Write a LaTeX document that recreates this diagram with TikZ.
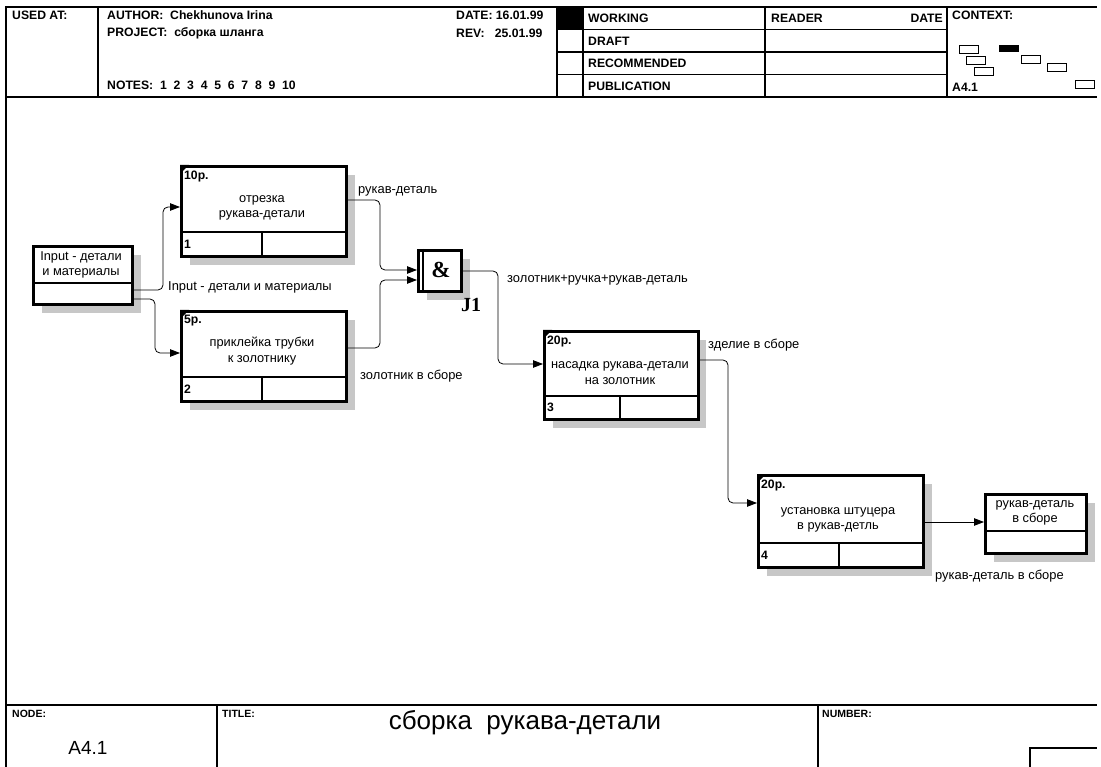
\documentclass[tikz,border=0pt]{standalone}
\usepackage{fontspec}
\setmainfont{Liberation Sans}
\newfontfamily\serifb{Liberation Serif}
\usetikzlibrary{arrows.meta,calc}
\tikzset{
  frame/.style={line width=1.1pt},
  abox/.style={draw, line width=2.6pt, rectangle, inner sep=0pt, anchor=north west},
  inner/.style={line width=2.2pt},
  shade/.style={fill=black!22},
  conn/.style={line width=0.8pt, rounded corners=5pt, -{Triangle[length=10pt,width=7.5pt]}},
  hdr/.style={font=\fontsize{12.2}{14}\selectfont\bfseries, anchor=west, inner sep=0pt},
  ftr/.style={font=\fontsize{10.5}{12}\selectfont\bfseries, anchor=west, inner sep=0pt},
  boxtxt/.style={font=\fontsize{12.8}{15.5}\selectfont, align=center, inner sep=0pt},
  lbl/.style={font=\fontsize{12.9}{15}\selectfont, anchor=west, inner sep=0pt},
  numtxt/.style={font=\fontsize{12.2}{14}\selectfont\bfseries, anchor=west, inner sep=0pt},
  ctx/.style={draw, line width=0.7pt, anchor=north west, inner sep=0pt, minimum width=19pt, minimum height=8pt}
}
\begin{document}
\begin{tikzpicture}[x=1pt,y=-1pt]
\useasboundingbox (0,0) rectangle (1101,767);
% ---------- frame and header ----------
\draw[frame] (6,767) -- (6,7) -- (1097,7);
\draw[frame] (6,97) -- (1097,97);
\draw[frame] (98,7) -- (98,97);
\draw[frame] (557,7) -- (557,97);
\draw[frame] (583,7) -- (583,97);
\draw[frame] (765,7) -- (765,97);
\draw[frame] (947,7) -- (947,97);
\draw[frame] (557,29.5) -- (947,29.5);
\draw[frame] (557,52) -- (947,52);
\draw[frame] (557,74.5) -- (947,74.5);
\fill (557,7) rectangle (583,29.5);
\node[hdr] (usedat) at (12,15) {USED AT:};
\node[hdr] (author) at (107,15) {AUTHOR:\ \ Chekhunova Irina};
\node[hdr] (project) at (107,33) {PROJECT:\ \ сборка шланга};
\node[hdr] (notes) at (107,85) {NOTES:\ \ 1\ \ 2\ \ 3\ \ 4\ \ 5\ \ 6\ \ 7\ \ 8\ \ 9\ \ 10};
\node[hdr] (date) at (456,15) {DATE: 16.01.99};
\node[hdr] (rev) at (456,33) {REV:\ \ \ 25.01.99};
\node[hdr] (working) at (588,18) {WORKING};
\node[hdr] (draft) at (588,41) {DRAFT};
\node[hdr] (recom) at (588,63) {RECOMMENDED};
\node[hdr] (publ) at (588,86) {PUBLICATION};
\node[hdr] (reader) at (771,18) {READER};
\node[hdr, anchor=east] (rdate) at (943,18) {DATE};
\node[hdr] (context) at (952,15) {CONTEXT:};
\node[hdr] (ctxa) at (952,87) {A4.1};
\node[ctx] (c1) at (959,45) {};
\node[ctx, fill=black, minimum height=6pt] (c2) at (999,45) {};
\node[ctx] (c3) at (966,56) {};
\node[ctx] (c4) at (1021,55) {};
\node[ctx] (c5) at (974,67) {};
\node[ctx] (c6) at (1047,63) {};
\node[ctx] (c7) at (1075,80) {};
% ---------- footer ----------
\draw[frame] (6,705) -- (1097,705);
\draw[frame] (217,705) -- (217,767);
\draw[frame] (818,705) -- (818,767);
\draw[frame] (1030,767) -- (1030,748) -- (1097,748);
\node[ftr] (nodel) at (12,714) {NODE:};
\node[ftr] (titlel) at (222,714) {TITLE:};
\node[ftr] (numl) at (822,714) {NUMBER:};
\node[font=\fontsize{19}{22}\selectfont, inner sep=0pt] (nodeval) at (88,748) {A4.1};
\node[font=\fontsize{26}{29}\selectfont, inner sep=0pt] (title) at (525,723) {сборка\ \ рукава-детали};
% ---------- labels (under shadows) ----------
\node[lbl] (l1) at (358,191) {рукав-деталь};
\node[lbl] (l2) at (168,287) {Input - детали и материалы};
\node[lbl] (l3) at (360,376) {золотник в сборе};
\node[lbl] (l4) at (507,280) {золотник+ручка+рукав-деталь};
\node[lbl] (l5) at (708,345) {зделие в сборе};
\node[lbl] (l6) at (935,576) {рукав-деталь в сборе};
% ---------- shadows ----------
\fill[shade] (190,175) rectangle (355,265);
\fill[shade] (190,320) rectangle (355,410);
\fill[shade] (553,340) rectangle (706,428);
\fill[shade] (767,484) rectangle (932,576);
\fill[shade] (42,255) rectangle (141,313);
\fill[shade] (994,503) rectangle (1095,562);
\fill[shade] (427,259) rectangle (470,300);
% ---------- activity boxes ----------
\node[abox, fill=white, minimum width=165pt, minimum height=90pt] (b1) at (180,165) {};
\node[abox, fill=white, minimum width=165pt, minimum height=90pt] (b2) at (180,310) {};
\node[abox, fill=white, minimum width=154pt, minimum height=88pt] (b3) at (543,330) {};
\node[abox, fill=white, minimum width=165pt, minimum height=92pt] (b4) at (757,474) {};
\node[abox, fill=white, minimum width=99pt, minimum height=58pt] (inp) at (32,245) {};
\node[abox, fill=white, minimum width=101pt, minimum height=59pt] (outp) at (984,493) {};
\node[abox, fill=white, minimum width=43pt, minimum height=41pt] (jn) at (417,249) {};
% internal lines
\draw[inner] (180,232) -- (345,232); \draw[inner] (262,232) -- (262,255);
\draw[inner] (180,377) -- (345,377); \draw[inner] (262,377) -- (262,400);
\draw[inner] (543,396) -- (697,396); \draw[inner] (620,396) -- (620,418);
\draw[inner] (757,543) -- (922,543); \draw[inner] (839,543) -- (839,566);
\draw[inner] (32,283) -- (131,283);
\draw[inner] (984,531) -- (1085,531);
\draw[line width=1.6pt] (423,249) -- (423,290);
% corner ticks
\foreach \cx/\cy in {180/165,180/310,543/330,757/474}{
  \fill (\cx,\cy) -- (\cx+9,\cy) -- (\cx,\cy+9) -- cycle;
}
% box texts
\node[numtxt] (t1a) at (184,177) {10р.};
\node[boxtxt] (t1) at (262,208) {отрезка\\рукава-детали};
\node[numtxt] (t1n) at (184,244) {1};
\node[numtxt] (t2a) at (184,321) {5р.};
\node[boxtxt] (t2) at (262,351) {приклейка трубки\\к золотнику};
\node[numtxt] (t2n) at (184,389) {2};
\node[numtxt] (t3a) at (547,342) {20р.};
\node[boxtxt] (t3) at (620,373) {насадка рукава-детали\\на золотник};
\node[numtxt] (t3n) at (547,407) {3};
\node[numtxt] (t4a) at (761,486) {20р.};
\node[boxtxt] (t4) at (838,520) {установка штуцера\\в рукав-детль};
\node[numtxt] (t4n) at (761,555) {4};
\node[boxtxt] (ti) at (81,265) {Input - детали\\и материалы};
\node[boxtxt] (to) at (1035,513) {рукав-деталь\\в сборе};
\node[font=\serifb\fontsize{23}{25}\selectfont\bfseries, inner sep=0pt] (amp) at (441,270) {\&};
\node[font=\serifb\fontsize{20}{22}\selectfont\bfseries, inner sep=0pt] (j1) at (471,305) {J1};
% ---------- connectors ----------
\coordinate (a1) at (163,290);
\coordinate (a2) at (155,299);
\draw[conn] (inp.east |- a1) -- (a1) -- (163,207) -- (b1.west |- 0,207);
\draw[conn] (inp.east |- a2) -- (a2) -- (155,353) -- (b2.west |- 0,353);
\draw[conn] (b1.east |- 0,200) -- (380,200) -- (380,270) -- (jn.west |- 0,270);
\draw[conn] (b2.east |- 0,348) -- (380,348) -- (380,280) -- (jn.west |- 0,280);
\draw[conn] (jn.east |- 0,271) -- (498,271) -- (498,364) -- (b3.west |- 0,364);
\draw[conn] (b3.east |- 0,360) -- (728,360) -- (728,503) -- (b4.west |- 0,503);
\draw[conn] (b4.east |- 0,522) -- (outp.west |- 0,522);
\end{tikzpicture}
\end{document}
